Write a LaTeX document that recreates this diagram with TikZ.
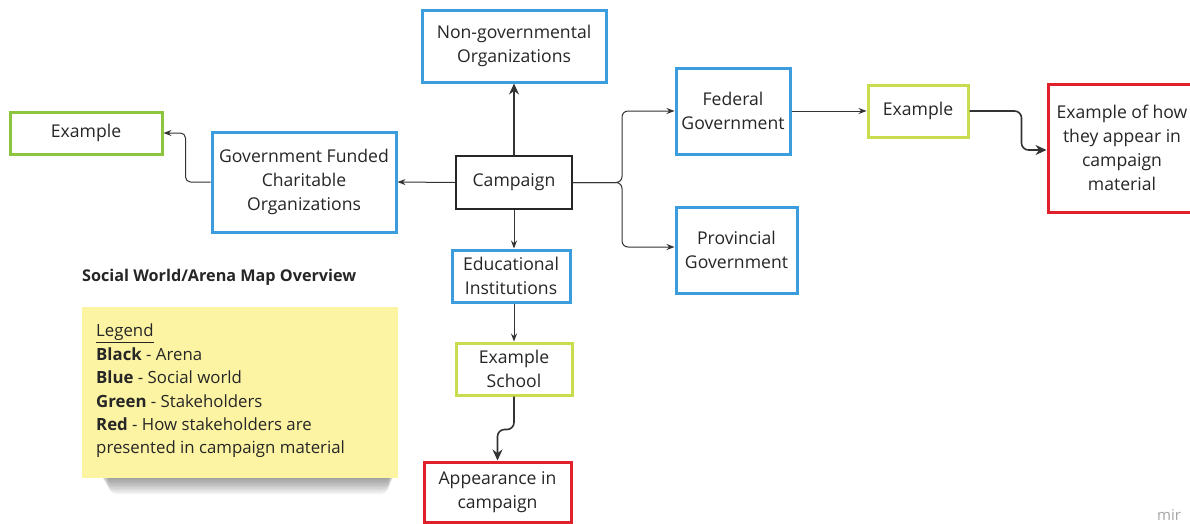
\documentclass[tikz,border=0pt]{standalone}
\usepackage{fontspec}
\setmainfont{Open Sans}
\usetikzlibrary{arrows.meta}
\definecolor{swblue}{HTML}{3C9DDE}
\definecolor{shgreen}{HTML}{8CC63F}
\definecolor{shlime}{HTML}{C9DC4E}
\definecolor{prred}{HTML}{E0202A}
\definecolor{noteyellow}{HTML}{FCF4A3}
\definecolor{linegray}{HTML}{333333}
\tikzset{
  box/.style={draw, align=center, inner sep=2pt, font=\fontsize{17.6}{24}\selectfont, text=black!85},
  arena/.style={box, draw=black!85, line width=1.3pt},
  social/.style={box, draw=swblue, line width=3pt},
  stake/.style={box, draw=shgreen, line width=3pt},
  stakelime/.style={box, draw=shlime, line width=3pt},
  present/.style={box, draw=prred, line width=3pt},
  conn/.style={draw=linegray, line width=1pt, -{Stealth[length=8pt,width=6pt]}},
  bigconn/.style={draw=linegray, line width=1.6pt, -{Stealth[length=11pt,width=10pt]}},
}
\begin{document}
\begin{tikzpicture}[x=1pt,y=-1pt]
\useasboundingbox (0,0) rectangle (1190,523);
\fill[white] (0,0) rectangle (1190,523);

% legend sticky note with its soft shadow
\foreach \k in {1,...,16}{
  \fill[black, opacity=0.035, rounded corners=8pt] (96+\k*0.8,466) rectangle (398-\k*0.6,472+\k*1.4);
}
\node[fill=noteyellow, minimum width=316pt, minimum height=171pt, anchor=north west, inner sep=0pt] (note) at (82,307) {};
\node[anchor=north west, align=left, inner sep=0pt, font=\fontsize{16.8}{23.4}\selectfont, text=black!85] (legend) at (96,324)
  {\underline{Legend}\\
   \textbf{Black} - Arena\\
   \textbf{Blue} - Social world\\
   \textbf{Green} - Stakeholders\\
   \textbf{Red} - How stakeholders are\\
   presented in campaign material};
\node[anchor=west, inner sep=0pt, font=\bfseries\fontsize{16.2}{18}\selectfont, text=black!85] (title) at (82,277) {Social World/Arena Map Overview};

% nodes
\node[arena, minimum width=116pt, minimum height=53pt] (camp) at (514,182.5) {Campaign};
\node[social, minimum width=184pt, minimum height=72pt] (ngo) at (514,46) {Non-governmental\\Organizations};
\node[social, minimum width=184pt, minimum height=100pt] (gfco) at (304,182) {Government Funded\\Charitable\\Organizations};
\node[stake, minimum width=152pt, minimum height=42pt] (ex1) at (86,133) {Example};
\node[social, minimum width=114pt, minimum height=86pt] (fed) at (733,111) {Federal\\Government};
\node[social, minimum width=121pt, minimum height=86pt] (prov) at (736.5,250) {Provincial\\Government};
\node[stakelime, minimum width=100pt, minimum height=52pt] (ex2) at (918,111) {Example};
\node[present, minimum width=148pt, minimum height=128pt] (red1) at (1122,148) {Example of how\\they appear in\\campaign\\material};
\node[social, minimum width=118pt, minimum height=52pt] (edu) at (511,276) {Educational\\Institutions};
\node[stakelime, minimum width=116pt, minimum height=52pt] (school) at (514,369) {Example\\School};
\node[present, minimum width=147pt, minimum height=60pt] (appear) at (497.5,492) {Appearance in\\campaign};

% connectors
\coordinate (split) at (622,182.5);
\draw[bigconn] (camp.north) -- (ngo.south);
\draw[conn] (camp.west) -- (gfco.east);
\draw[conn, rounded corners=5] (gfco.west) -- ++(-25,0) |- (ex1.east);
\draw[conn, rounded corners=6] (camp.east) -- (split) |- (fed.west);
\draw[conn, rounded corners=6] (camp.east) -- (split) |- (prov.west |- 0,247);
\draw[conn] (fed.east) -- (ex2.east -| ex2.west);
\draw[bigconn, rounded corners=7] (ex2.east) -- ++(52,0) |- (red1.west |- 0,150);
\draw[conn] (camp.south) -- (camp.south |- edu.north);
\draw[conn] (edu.south -| camp.south) -- (school.north);
\draw[bigconn, rounded corners=7] (school.south) -- ++(0,33) -| (appear.north);

% watermark
\node[anchor=base west, inner sep=0pt, font=\fontsize{15}{18}\selectfont, text=black!35] (mark) at (1157,520) {mir};
\end{tikzpicture}
\end{document}
